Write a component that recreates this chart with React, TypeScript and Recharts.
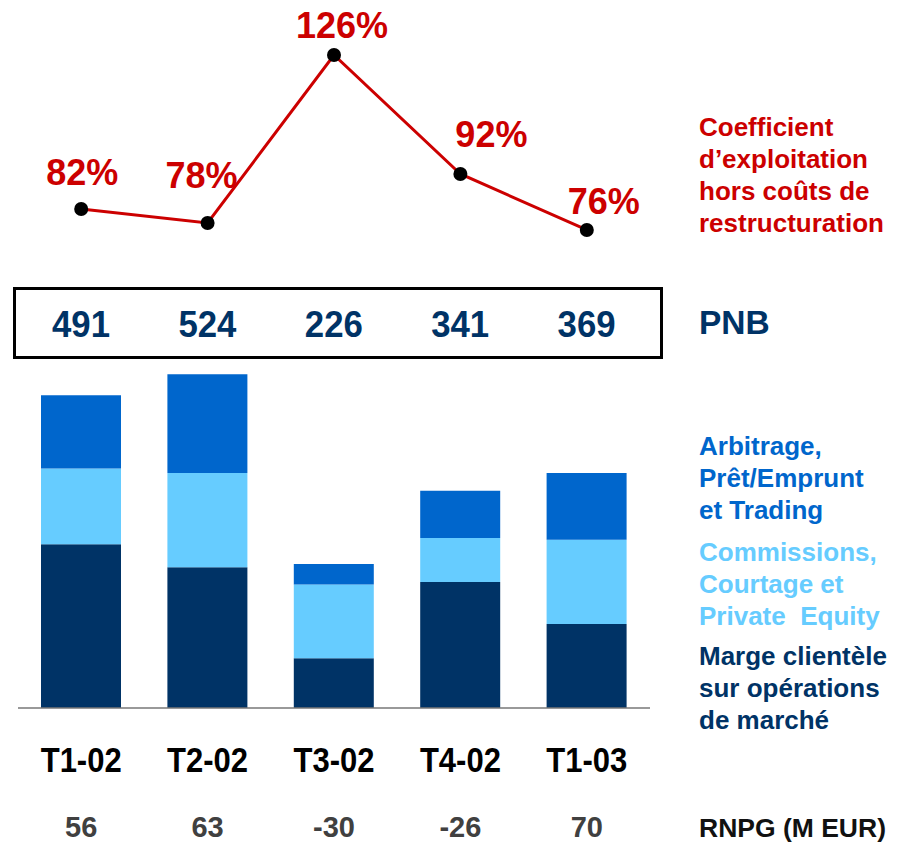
import React from 'react';
import { ComposedChart, Bar, Line, XAxis, YAxis, LabelList } from 'recharts';

// quarterly data (M EUR)
const quarters = ['T1-02', 'T2-02', 'T3-02', 'T4-02', 'T1-03'];
const coefficient = [82, 78, 126, 92, 76];
const pnb = [491, 524, 226, 341, 369];
const marge = [257, 221, 78, 198, 132];
const commissions = [119, 148, 116, 69, 132];
const arbitrage = [115, 155, 32, 74, 105];
const rnpg = [56, 63, -30, -26, 70];

const data = quarters.map((q, i) => ({
  q,
  coef: coefficient[i],
  pnb: pnb[i],
  marge: marge[i],
  commissions: commissions[i],
  arbitrage: arbitrage[i],
  rnpg: rnpg[i],
}));

const red = '#CC0000';
const navy = '#003366';
const light = '#66CCFF';
const mid = '#0066CC';
const font = 'Arial, "Liberation Sans", sans-serif';

// label nudges, matching the slide's hand placement
const labelDx = [1, -6, 8, 31, 17];
const labelDy = [-24, -35, -17, -27, -16];

const CoefDot = (props: any) => {
  const { cx, cy, index, value } = props;
  return (
    <g key={`dot-${index}`}>
      <circle cx={cx} cy={cy} r={7} fill="#000" />
      <text
        x={cx + labelDx[index]}
        y={cy + labelDy[index]}
        textAnchor="middle"
        fill={red}
        fontFamily={font}
        fontWeight="bold"
        fontSize={36}
      >
        {value}%
      </text>
    </g>
  );
};

const PnbLabel = (props: any) => {
  const { x, width, value } = props;
  return (
    <text
      x={x + width / 2}
      y={337}
      textAnchor="middle"
      fill={navy}
      fontFamily={font}
      fontWeight="bold"
      fontSize={37}
      textLength={58}
      lengthAdjust="spacingAndGlyphs"
    >
      {value}
    </text>
  );
};

const QuarterTick = (props: any) => {
  const { x, payload } = props;
  const i = payload.index;
  return (
    <g>
      <text
        x={x}
        y={772}
        textAnchor="middle"
        fill="#000"
        fontFamily={font}
        fontWeight="bold"
        fontSize={35}
        textLength={81}
        lengthAdjust="spacingAndGlyphs"
      >
        {payload.value}
      </text>
      <text x={x} y={837} textAnchor="middle" fill="#404040" fontFamily={font} fontWeight="bold" fontSize={29}>
        {rnpg[i]}
      </text>
    </g>
  );
};

const legendText: React.CSSProperties = {
  position: 'absolute',
  left: 699,
  fontFamily: font,
  fontWeight: 'bold',
  fontSize: 26,
  lineHeight: '32px',
  whiteSpace: 'nowrap',
};

export default function App() {
  return (
    <div style={{ position: 'absolute', left: 0, top: 0, width: 906, height: 844, background: '#fff' }}>
      <ComposedChart width={906} height={844} data={data} margin={{ top: 0, right: 256, bottom: 0, left: 18 }}>
        <XAxis
          dataKey="q"
          height={136}
          axisLine={{ stroke: '#777', strokeWidth: 1.5 }}
          tickLine={false}
          tick={<QuarterTick />}
          interval={0}
        />
        <YAxis yAxisId="bar" hide domain={[0, 1111.5]} allowDataOverflow />
        <YAxis yAxisId="pct" hide domain={[-60.57, 141.71]} allowDataOverflow />
        <Bar yAxisId="bar" dataKey="marge" stackId="s" fill={navy} barSize={80} isAnimationActive={false} />
        <Bar yAxisId="bar" dataKey="commissions" stackId="s" fill={light} barSize={80} isAnimationActive={false} />
        <Bar yAxisId="bar" dataKey="arbitrage" stackId="s" fill={mid} barSize={80} isAnimationActive={false}>
          <LabelList dataKey="pnb" content={<PnbLabel />} />
        </Bar>
        <Line
          yAxisId="pct"
          type="linear"
          dataKey="coef"
          stroke={red}
          strokeWidth={3}
          dot={<CoefDot />}
          activeDot={false}
          isAnimationActive={false}
        />
      </ComposedChart>

      {/* PNB frame */}
      <div
        style={{
          position: 'absolute',
          left: 13,
          top: 287,
          width: 650,
          height: 72,
          border: '3px solid #000',
          boxSizing: 'border-box',
        }}
      />

      <div style={{ ...legendText, top: 111, color: red }}>
        Coefficient
        <br />
        d’exploitation
        <br />
        hors coûts de
        <br />
        restructuration
      </div>
      <div style={{ ...legendText, top: 304, color: navy, fontSize: 33.5, lineHeight: '38px' }}>PNB</div>
      <div style={{ ...legendText, top: 430, color: mid }}>
        Arbitrage,
        <br />
        Prêt/Emprunt
        <br />
        et Trading
      </div>
      <div style={{ ...legendText, top: 536, color: light }}>
        Commissions,
        <br />
        Courtage et
        <br />
        Private&nbsp; Equity
      </div>
      <div style={{ ...legendText, top: 640, color: navy }}>
        Marge clientèle
        <br />
        sur opérations
        <br />
        de marché
      </div>
      <div style={{ ...legendText, top: 812, color: '#111', fontSize: 26.5 }}>RNPG (M EUR)</div>
    </div>
  );
}
